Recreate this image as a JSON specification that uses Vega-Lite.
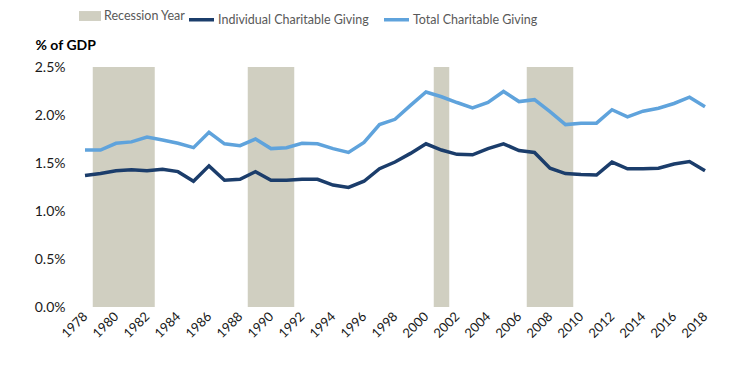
{
  "$schema": "https://vega.github.io/schema/vega-lite/v6.json",
  "autosize": "none",
  "width": 620,
  "height": 240,
  "padding": {"left": 85, "top": 67, "right": 34, "bottom": 62},
  "background": "white",
  "config": {
    "view": {"stroke": null},
    "font": "Lato",
    "axis": {"labelFont": "Lato", "titleFont": "Lato"},
    "axisX": {"labelOverlap": false, "labelFlush": false, "labelAngle": -45, "labelAlign": "right", "labelBaseline": "middle", "labelPadding": 7, "labelFontSize": 13, "labelColor": "#1a1a1a", "grid": false, "domain": false, "ticks": false},
    "legend": {"labelFont": "Lato", "labelLimit": 400}
  },
  "datasets": {
    "recessions": [
      {"start": 1978.5, "end": 1982.5, "label": "Recession Year"},
      {"start": 1988.5, "end": 1991.5, "label": "Recession Year"},
      {"start": 2000.5, "end": 2001.5, "label": "Recession Year"},
      {"start": 2006.5, "end": 2009.5, "label": "Recession Year"}
    ],
    "giving": [
      {"year": 1978, "series": "Total Charitable Giving", "value": 1.635},
      {"year": 1979, "series": "Total Charitable Giving", "value": 1.635},
      {"year": 1980, "series": "Total Charitable Giving", "value": 1.705},
      {"year": 1981, "series": "Total Charitable Giving", "value": 1.72},
      {"year": 1982, "series": "Total Charitable Giving", "value": 1.77},
      {"year": 1983, "series": "Total Charitable Giving", "value": 1.74},
      {"year": 1984, "series": "Total Charitable Giving", "value": 1.705},
      {"year": 1985, "series": "Total Charitable Giving", "value": 1.66},
      {"year": 1986, "series": "Total Charitable Giving", "value": 1.82},
      {"year": 1987, "series": "Total Charitable Giving", "value": 1.70},
      {"year": 1988, "series": "Total Charitable Giving", "value": 1.68},
      {"year": 1989, "series": "Total Charitable Giving", "value": 1.75},
      {"year": 1990, "series": "Total Charitable Giving", "value": 1.65},
      {"year": 1991, "series": "Total Charitable Giving", "value": 1.66},
      {"year": 1992, "series": "Total Charitable Giving", "value": 1.705},
      {"year": 1993, "series": "Total Charitable Giving", "value": 1.70},
      {"year": 1994, "series": "Total Charitable Giving", "value": 1.65},
      {"year": 1995, "series": "Total Charitable Giving", "value": 1.61},
      {"year": 1996, "series": "Total Charitable Giving", "value": 1.715},
      {"year": 1997, "series": "Total Charitable Giving", "value": 1.90},
      {"year": 1998, "series": "Total Charitable Giving", "value": 1.955},
      {"year": 1999, "series": "Total Charitable Giving", "value": 2.10},
      {"year": 2000, "series": "Total Charitable Giving", "value": 2.24},
      {"year": 2001, "series": "Total Charitable Giving", "value": 2.19},
      {"year": 2002, "series": "Total Charitable Giving", "value": 2.13},
      {"year": 2003, "series": "Total Charitable Giving", "value": 2.075},
      {"year": 2004, "series": "Total Charitable Giving", "value": 2.13},
      {"year": 2005, "series": "Total Charitable Giving", "value": 2.245},
      {"year": 2006, "series": "Total Charitable Giving", "value": 2.14},
      {"year": 2007, "series": "Total Charitable Giving", "value": 2.16},
      {"year": 2008, "series": "Total Charitable Giving", "value": 2.035},
      {"year": 2009, "series": "Total Charitable Giving", "value": 1.90},
      {"year": 2010, "series": "Total Charitable Giving", "value": 1.915},
      {"year": 2011, "series": "Total Charitable Giving", "value": 1.915},
      {"year": 2012, "series": "Total Charitable Giving", "value": 2.055},
      {"year": 2013, "series": "Total Charitable Giving", "value": 1.98},
      {"year": 2014, "series": "Total Charitable Giving", "value": 2.04},
      {"year": 2015, "series": "Total Charitable Giving", "value": 2.07},
      {"year": 2016, "series": "Total Charitable Giving", "value": 2.12},
      {"year": 2017, "series": "Total Charitable Giving", "value": 2.185},
      {"year": 2018, "series": "Total Charitable Giving", "value": 2.085},
      {"year": 1978, "series": "Individual Charitable Giving", "value": 1.37},
      {"year": 1979, "series": "Individual Charitable Giving", "value": 1.39},
      {"year": 1980, "series": "Individual Charitable Giving", "value": 1.42},
      {"year": 1981, "series": "Individual Charitable Giving", "value": 1.43},
      {"year": 1982, "series": "Individual Charitable Giving", "value": 1.42},
      {"year": 1983, "series": "Individual Charitable Giving", "value": 1.435},
      {"year": 1984, "series": "Individual Charitable Giving", "value": 1.41},
      {"year": 1985, "series": "Individual Charitable Giving", "value": 1.31},
      {"year": 1986, "series": "Individual Charitable Giving", "value": 1.47},
      {"year": 1987, "series": "Individual Charitable Giving", "value": 1.32},
      {"year": 1988, "series": "Individual Charitable Giving", "value": 1.33},
      {"year": 1989, "series": "Individual Charitable Giving", "value": 1.41},
      {"year": 1990, "series": "Individual Charitable Giving", "value": 1.32},
      {"year": 1991, "series": "Individual Charitable Giving", "value": 1.32},
      {"year": 1992, "series": "Individual Charitable Giving", "value": 1.33},
      {"year": 1993, "series": "Individual Charitable Giving", "value": 1.33},
      {"year": 1994, "series": "Individual Charitable Giving", "value": 1.27},
      {"year": 1995, "series": "Individual Charitable Giving", "value": 1.245},
      {"year": 1996, "series": "Individual Charitable Giving", "value": 1.31},
      {"year": 1997, "series": "Individual Charitable Giving", "value": 1.44},
      {"year": 1998, "series": "Individual Charitable Giving", "value": 1.51},
      {"year": 1999, "series": "Individual Charitable Giving", "value": 1.60},
      {"year": 2000, "series": "Individual Charitable Giving", "value": 1.70},
      {"year": 2001, "series": "Individual Charitable Giving", "value": 1.635},
      {"year": 2002, "series": "Individual Charitable Giving", "value": 1.59},
      {"year": 2003, "series": "Individual Charitable Giving", "value": 1.585},
      {"year": 2004, "series": "Individual Charitable Giving", "value": 1.65},
      {"year": 2005, "series": "Individual Charitable Giving", "value": 1.70},
      {"year": 2006, "series": "Individual Charitable Giving", "value": 1.63},
      {"year": 2007, "series": "Individual Charitable Giving", "value": 1.61},
      {"year": 2008, "series": "Individual Charitable Giving", "value": 1.445},
      {"year": 2009, "series": "Individual Charitable Giving", "value": 1.39},
      {"year": 2010, "series": "Individual Charitable Giving", "value": 1.38},
      {"year": 2011, "series": "Individual Charitable Giving", "value": 1.375},
      {"year": 2012, "series": "Individual Charitable Giving", "value": 1.51},
      {"year": 2013, "series": "Individual Charitable Giving", "value": 1.44},
      {"year": 2014, "series": "Individual Charitable Giving", "value": 1.44},
      {"year": 2015, "series": "Individual Charitable Giving", "value": 1.445},
      {"year": 2016, "series": "Individual Charitable Giving", "value": 1.49},
      {"year": 2017, "series": "Individual Charitable Giving", "value": 1.515},
      {"year": 2018, "series": "Individual Charitable Giving", "value": 1.42}
    ]
  },
  "layer": [
    {
      "data": {"name": "recessions"},
      "mark": {"type": "rect"},
      "encoding": {
        "x": {"field": "start", "type": "quantitative", "scale": {"domain": [1978, 2018], "nice": false, "zero": false},
          "axis": {"values": [1978,1980,1982,1984,1986,1988,1990,1992,1994,1996,1998,2000,2002,2004,2006,2008,2010,2012,2014,2016,2018],
            "format": "d", "title": null}},
        "x2": {"field": "end"},
        "fill": {"field": "label", "type": "nominal",
          "scale": {"domain": ["Recession Year"], "range": ["#D0CFC1"]},
          "legend": {"orient": "none", "legendX": -6, "legendY": -62, "title": null, "direction": "horizontal",
            "symbolType": "M-1,-0.45H1V0.45H-1Z", "symbolSize": 484, "symbolStrokeWidth": 0, "symbolOpacity": 1,
            "labelFontSize": 12.5, "labelColor": "#595959", "labelOffset": 3}}
      }
    },
    {
      "data": {"name": "giving"},
      "mark": {"type": "line", "strokeWidth": 3.5, "strokeJoin": "miter"},
      "encoding": {
        "x": {"field": "year", "type": "quantitative",
          "axis": {"values": [1978,1980,1982,1984,1986,1988,1990,1992,1994,1996,1998,2000,2002,2004,2006,2008,2010,2012,2014,2016,2018],
            "format": "d", "title": null}},
        "y": {"field": "value", "type": "quantitative",
          "scale": {"domain": [0, 2.5], "nice": false},
          "axis": {"values": [0, 0.5, 1, 1.5, 2, 2.5], "labelExpr": "format(datum.value, '.1f') + '%'",
            "grid": false, "domain": false, "ticks": false, "labelPadding": 20, "labelFontSize": 14, "labelColor": "#1a1a1a",
            "title": "% of GDP", "titleAngle": 0, "titleAlign": "left", "titleBaseline": "middle",
            "titleX": -50, "titleY": -22, "titleFontSize": 14, "titleFontWeight": "bold", "titleColor": "#000000"}},
        "stroke": {"field": "series", "type": "nominal",
          "scale": {"domain": ["Individual Charitable Giving", "Total Charitable Giving"], "range": ["#1B3D6B", "#5FA3DC"]},
          "legend": {"orient": "none", "legendX": 102, "legendY": -62, "title": null, "direction": "horizontal", "columns": 2,
            "symbolType": "stroke", "symbolSize": 625, "symbolStrokeWidth": 3.5, "columnPadding": 8,
            "labelFontSize": 12.5, "labelColor": "#595959", "labelOffset": 2}},
        "detail": {"field": "series"}
      }
    }
  ]
}
